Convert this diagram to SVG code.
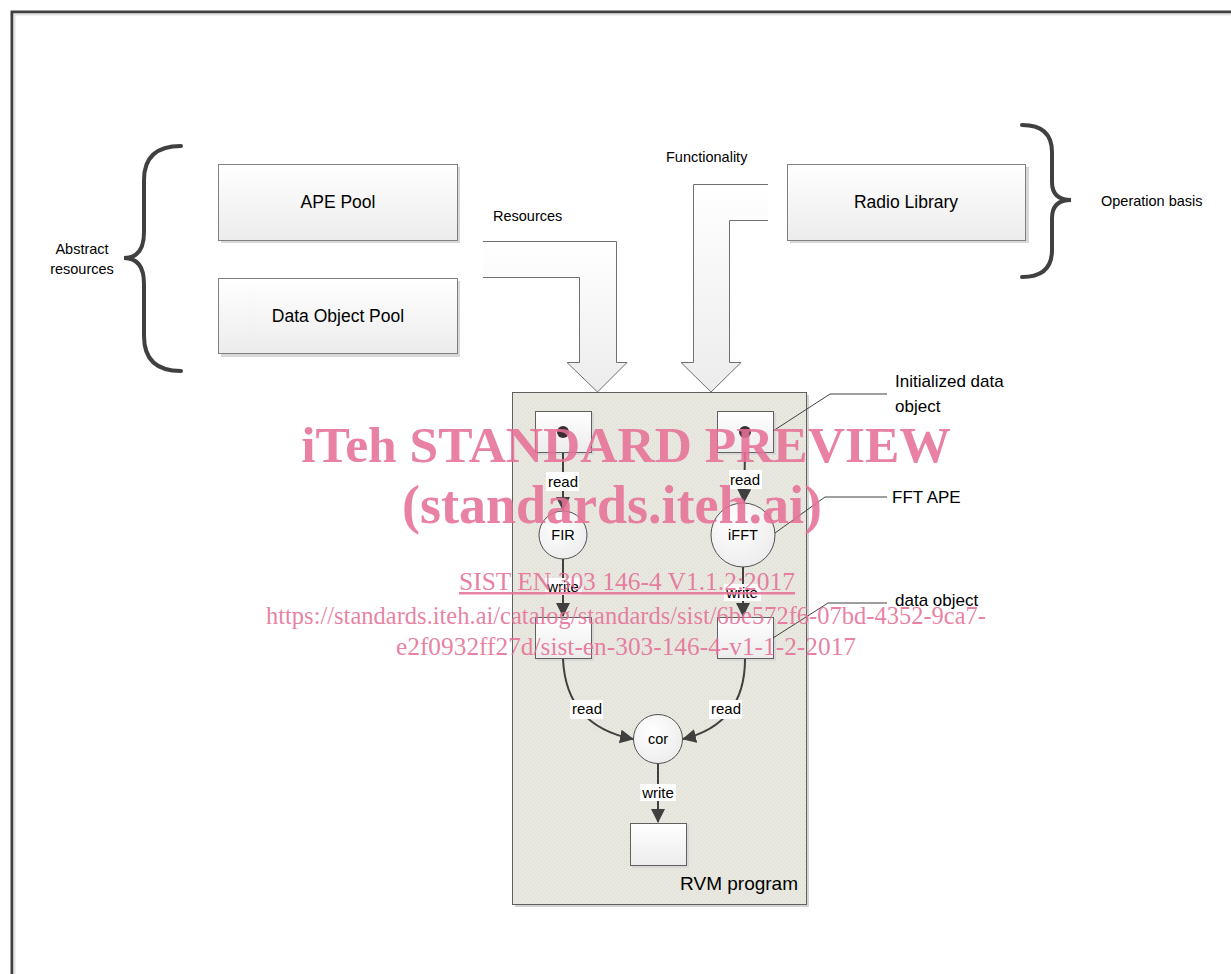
<svg xmlns="http://www.w3.org/2000/svg" width="1231" height="974" viewBox="0 0 1231 974">
<defs>
<linearGradient id="boxg" x1="0" y1="0" x2="0" y2="1">
<stop offset="0" stop-color="#ffffff"/><stop offset="1" stop-color="#ececec"/>
</linearGradient>
<linearGradient id="arrg" x1="0" y1="0" x2="0" y2="1">
<stop offset="0" stop-color="#ffffff"/><stop offset="1" stop-color="#ececec"/>
</linearGradient>
<radialGradient id="circg" cx="0.4" cy="0.35" r="0.7">
<stop offset="0" stop-color="#ffffff"/><stop offset="1" stop-color="#ececec"/>
</radialGradient>
<pattern id="dots" width="4" height="4" patternUnits="userSpaceOnUse">
<rect width="4" height="4" fill="#e8e8e1"/>
<rect x="0" y="0" width="1" height="1" fill="#dcdcd2"/>
<rect x="2" y="2" width="1" height="1" fill="#dcdcd2"/>
</pattern>
<marker id="ah" viewBox="0 0 14 14" refX="13" refY="7" markerWidth="14" markerHeight="14" markerUnits="userSpaceOnUse" orient="auto">
<path d="M0,0 L14,7 L0,14 Z" fill="#404040"/>
</marker>
</defs>
<style>
.box{fill:url(#boxg);stroke:#808080;stroke-width:1}
.sh{fill:#d8d8d8}
.brace{fill:none;stroke:#404040;stroke-width:4;stroke-linecap:round}
.big{fill:url(#arrg);stroke:#707070;stroke-width:1}
.node{fill:url(#circg);stroke:#505050;stroke-width:1}
.sq{fill:url(#boxg);stroke:#606060;stroke-width:1}
.con{fill:none;stroke:#404040;stroke-width:2}
.call{fill:none;stroke:#404040;stroke-width:1}
.t{font-family:"Liberation Sans",Arial,sans-serif;fill:#000}
.lbl{fill:#ffffff}
.wm{font-family:"Liberation Serif","Times New Roman",serif;fill:#e56f96;fill-opacity:0.88}
</style>
<rect width="1231" height="974" fill="#ffffff"/>
<g id="frame">
<path d="M12,974 L12,12 L1231,12" fill="none" stroke="#404040" stroke-width="3"/>
<path d="M14.5,974 L14.5,14.5 L1231,14.5" fill="none" stroke="#e4e4e4" stroke-width="2"/>
</g>
<g id="ape-pool">
<rect class="sh" x="221" y="167" width="239" height="76"/>
<rect class="box" x="218.5" y="164.5" width="239" height="76"/>
<text class="t" x="338" y="208" font-size="17.5" text-anchor="middle">APE Pool</text>
</g>
<g id="data-object-pool">
<rect class="sh" x="221" y="281" width="239" height="76"/>
<rect class="box" x="218.5" y="278.5" width="239" height="75"/>
<text class="t" x="338" y="322" font-size="17.5" text-anchor="middle">Data Object Pool</text>
</g>
<g id="radio-library">
<rect class="sh" x="790" y="167" width="239" height="76"/>
<rect class="box" x="787.5" y="164.5" width="238" height="76"/>
<text class="t" x="906" y="208" font-size="17.5" text-anchor="middle">Radio Library</text>
</g>
<g id="abstract-resources">
<path class="brace" d="M181,146 Q144,146 144,180 L144,232 Q144,258 124,258 Q144,258 144,284 L144,336 Q144,371 181,371"/>
<text class="t" x="82" y="254" font-size="14.5" text-anchor="middle">Abstract</text>
<text class="t" x="82" y="274" font-size="14.5" text-anchor="middle">resources</text>
</g>
<g id="operation-basis">
<path class="brace" d="M1022,125 Q1052,125 1052,152 L1052,182 Q1052,200 1071,200 Q1052,200 1052,218 L1052,250 Q1052,277 1022,277"/>
<text class="t" x="1101" y="206" font-size="14.5">Operation basis</text>
</g>
<g id="resources-arrow">
<path class="big" d="M483,241.5 L616.5,241.5 L616.5,362.5 L627,362.5 L597.5,392 L567,362.5 L579.5,362.5 L579.5,277.5 L483,277.5"/>
<text class="t" x="493" y="221" font-size="14.5">Resources</text>
</g>
<g id="functionality-arrow">
<path class="big" d="M768,184.5 L693.5,184.5 L693.5,362.5 L681,362.5 L711,392 L741,362.5 L729.5,362.5 L729.5,220.5 L768,220.5"/>
<text class="t" x="666" y="162" font-size="14.5">Functionality</text>
</g>
<g id="rvm-program">
<rect x="515" y="395" width="294" height="512" fill="#d4d4d4"/>
<rect x="512.5" y="392.5" width="294" height="512" fill="url(#dots)" stroke="#606060" stroke-width="1"/>
<text class="t" x="798" y="890" font-size="19" text-anchor="end">RVM program</text>
</g>
<g id="do-init-left">
<rect class="sh" x="537" y="413" width="57" height="42"/>
<rect class="sq" x="535.5" y="411.5" width="56" height="41"/>
<circle cx="563" cy="432" r="6" fill="#3a2c33"/>
</g>
<g id="do-init-right">
<rect class="sh" x="719" y="413" width="57" height="42"/>
<rect class="sq" x="717.5" y="411.5" width="56" height="41"/>
<circle cx="745" cy="432" r="6" fill="#3a2c33"/>
</g>
<g id="fir">
<circle class="node" cx="563" cy="535" r="24"/>
<text class="t" x="563" y="540" font-size="14.5" text-anchor="middle">FIR</text>
</g>
<g id="ifft">
<circle class="node" cx="743" cy="535" r="32"/>
<text class="t" x="743" y="540" font-size="14.5" text-anchor="middle">iFFT</text>
</g>
<g id="do-left">
<rect class="sh" x="537" y="619" width="57" height="42"/>
<rect class="sq" x="535.5" y="617.5" width="56" height="41"/>
</g>
<g id="do-right">
<rect class="sh" x="719" y="619" width="57" height="42"/>
<rect class="sq" x="717.5" y="617.5" width="56" height="41"/>
</g>
<g id="cor">
<circle class="node" cx="658" cy="739" r="24.5"/>
<text class="t" x="658" y="744" font-size="14.5" text-anchor="middle">cor</text>
</g>
<g id="do-out">
<rect class="sh" x="632" y="825" width="57" height="43"/>
<rect class="sq" x="630.5" y="823.5" width="56" height="42"/>
</g>
<g id="connectors">
<path class="con" d="M563,453 L563,510" marker-end="url(#ah)"/>
<path class="con" d="M745,453 L744,502" marker-end="url(#ah)"/>
<path class="con" d="M563,559 L563,616" marker-end="url(#ah)"/>
<path class="con" d="M743,567 L743,616" marker-end="url(#ah)"/>
<path class="con" d="M563,659 Q566,726 633,739" marker-end="url(#ah)"/>
<path class="con" d="M745,659 Q745,724 683,739" marker-end="url(#ah)"/>
<path class="con" d="M658,764 L658,822" marker-end="url(#ah)"/>
<rect class="lbl" x="546" y="472" width="33" height="19"/>
<text class="t" x="563" y="487" font-size="15" text-anchor="middle">read</text>
<rect class="lbl" x="729" y="470" width="33" height="19"/>
<text class="t" x="745" y="485" font-size="15" text-anchor="middle">read</text>
<rect class="lbl" x="545" y="578" width="37" height="17"/>
<text class="t" x="563" y="592" font-size="15" text-anchor="middle">write</text>
<rect class="lbl" x="724" y="584" width="37" height="17"/>
<text class="t" x="742" y="598" font-size="15" text-anchor="middle">write</text>
<rect class="lbl" x="570" y="700" width="33" height="19"/>
<text class="t" x="587" y="714" font-size="15" text-anchor="middle">read</text>
<rect class="lbl" x="709" y="700" width="33" height="19"/>
<text class="t" x="726" y="714" font-size="15" text-anchor="middle">read</text>
<rect class="lbl" x="640" y="784" width="36" height="17"/>
<text class="t" x="658" y="798" font-size="15" text-anchor="middle">write</text>
</g>
<g id="callouts">
<path class="call" d="M773,431 L830,394 L887,394"/>
<text class="t" x="895" y="387" font-size="17">Initialized data</text>
<text class="t" x="895" y="412" font-size="17">object</text>
<path class="call" d="M775,533 L825,497 L887,497"/>
<text class="t" x="892" y="503" font-size="17">FFT APE</text>
<path class="call" d="M773,638 L828,603 L887,603"/>
<text class="t" x="895" y="606" font-size="17">data object</text>
</g>
<g id="watermark">
<text class="wm" x="626" y="462" font-size="51.5" font-weight="bold" text-anchor="middle">iTeh STANDARD PREVIEW</text>
<text class="wm" x="612" y="523" font-size="54" font-weight="bold" text-anchor="middle">(standards.iteh.ai)</text>
<text class="wm" x="627" y="590" font-size="25" text-anchor="middle" text-decoration="underline" textLength="336" lengthAdjust="spacingAndGlyphs">SIST EN 303 146-4 V1.1.2:2017</text>
<text class="wm" x="626" y="624" font-size="25" text-anchor="middle" textLength="720" lengthAdjust="spacingAndGlyphs">https://standards.iteh.ai/catalog/standards/sist/6be572f6-07bd-4352-9ca7-</text>
<text class="wm" x="626" y="655" font-size="25" text-anchor="middle" textLength="460" lengthAdjust="spacingAndGlyphs">e2f0932ff27d/sist-en-303-146-4-v1-1-2-2017</text>
</g>
</svg>
